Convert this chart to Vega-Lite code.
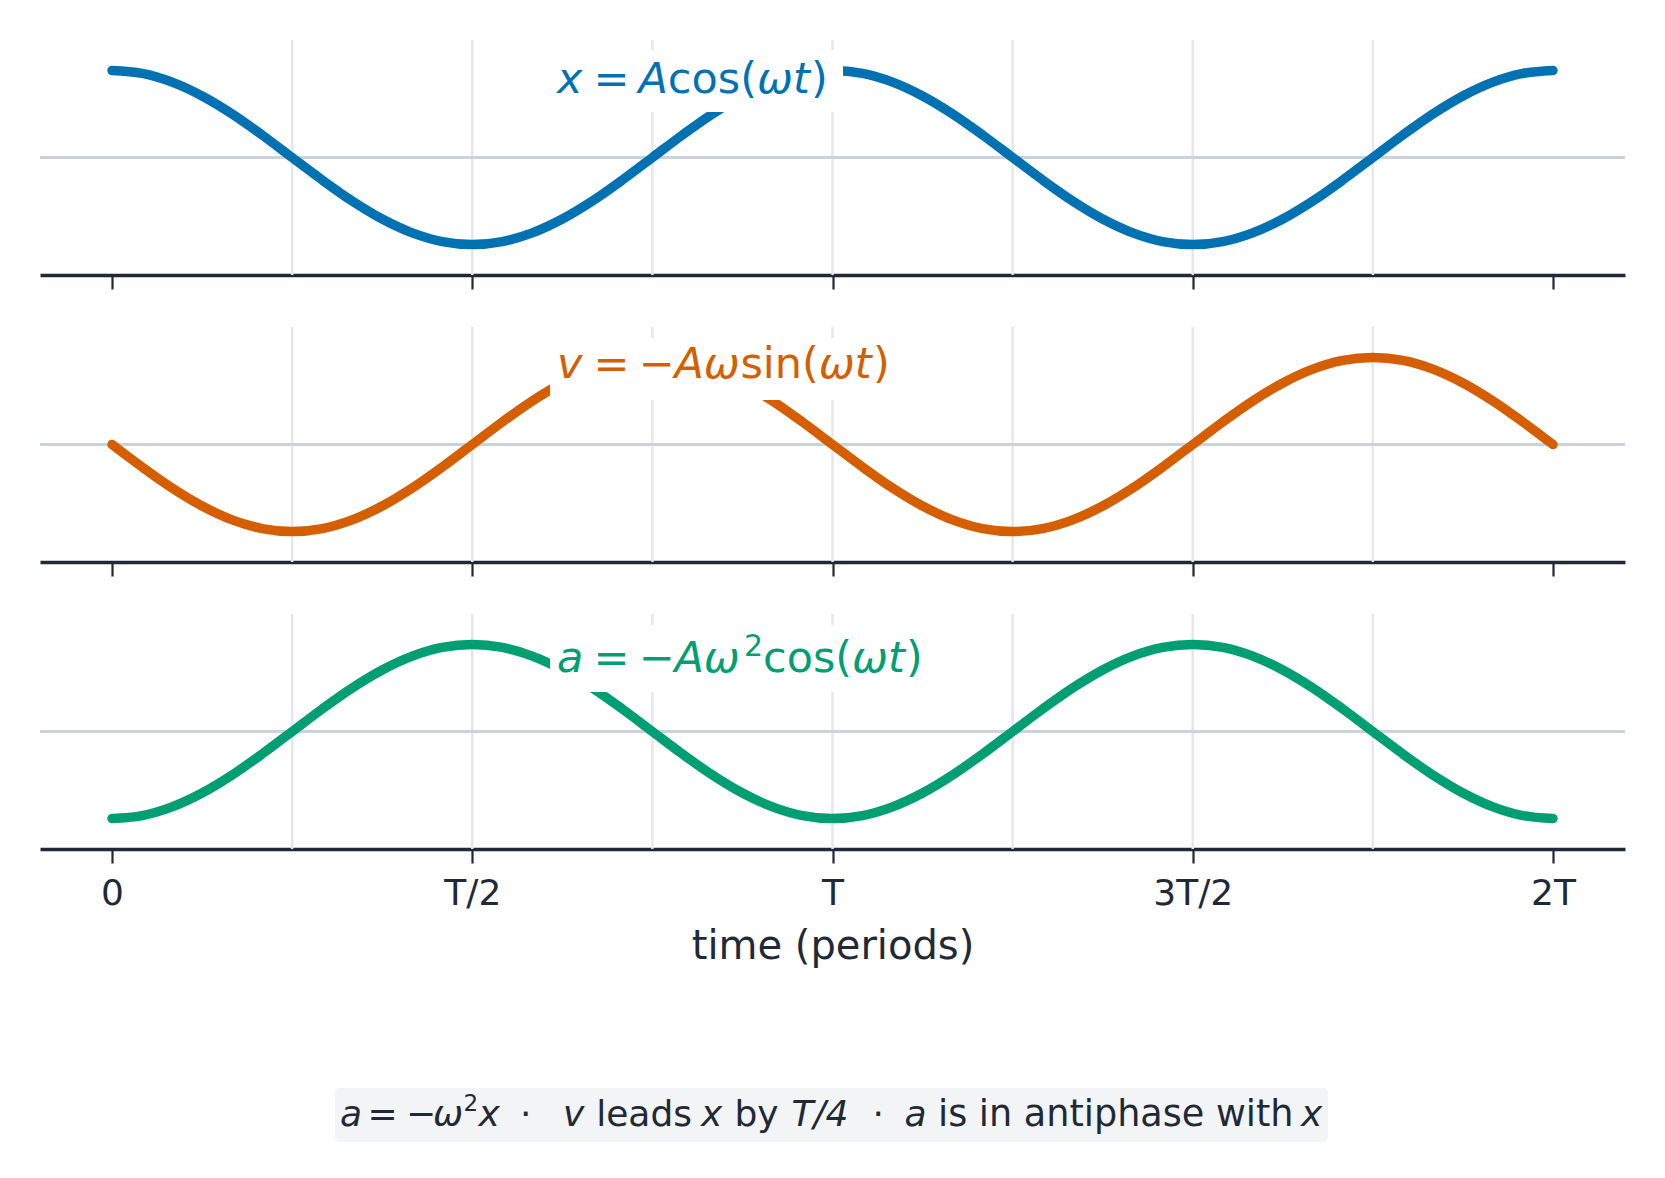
{
  "$schema": "https://vega.github.io/schema/vega-lite/v6.json",
  "padding": {"left": 38, "top": 38, "right": 42, "bottom": 38},
  "bounds": "flush",
  "spacing": 52,
  "datasets": {
    "motion": [
      {"t": 0, "x": 1, "v": 0, "a": -1},
      {"t": 0.0417, "x": 0.9659, "v": -0.2588, "a": -0.9659},
      {"t": 0.0833, "x": 0.866, "v": -0.5, "a": -0.866},
      {"t": 0.125, "x": 0.7071, "v": -0.7071, "a": -0.7071},
      {"t": 0.1667, "x": 0.5, "v": -0.866, "a": -0.5},
      {"t": 0.2083, "x": 0.2588, "v": -0.9659, "a": -0.2588},
      {"t": 0.25, "x": 0, "v": -1, "a": 0},
      {"t": 0.2917, "x": -0.2588, "v": -0.9659, "a": 0.2588},
      {"t": 0.3333, "x": -0.5, "v": -0.866, "a": 0.5},
      {"t": 0.375, "x": -0.7071, "v": -0.7071, "a": 0.7071},
      {"t": 0.4167, "x": -0.866, "v": -0.5, "a": 0.866},
      {"t": 0.4583, "x": -0.9659, "v": -0.2588, "a": 0.9659},
      {"t": 0.5, "x": -1, "v": 0, "a": 1},
      {"t": 0.5417, "x": -0.9659, "v": 0.2588, "a": 0.9659},
      {"t": 0.5833, "x": -0.866, "v": 0.5, "a": 0.866},
      {"t": 0.625, "x": -0.7071, "v": 0.7071, "a": 0.7071},
      {"t": 0.6667, "x": -0.5, "v": 0.866, "a": 0.5},
      {"t": 0.7083, "x": -0.2588, "v": 0.9659, "a": 0.2588},
      {"t": 0.75, "x": 0, "v": 1, "a": 0},
      {"t": 0.7917, "x": 0.2588, "v": 0.9659, "a": -0.2588},
      {"t": 0.8333, "x": 0.5, "v": 0.866, "a": -0.5},
      {"t": 0.875, "x": 0.7071, "v": 0.7071, "a": -0.7071},
      {"t": 0.9167, "x": 0.866, "v": 0.5, "a": -0.866},
      {"t": 0.9583, "x": 0.9659, "v": 0.2588, "a": -0.9659},
      {"t": 1, "x": 1, "v": 0, "a": -1},
      {"t": 1.0417, "x": 0.9659, "v": -0.2588, "a": -0.9659},
      {"t": 1.0833, "x": 0.866, "v": -0.5, "a": -0.866},
      {"t": 1.125, "x": 0.7071, "v": -0.7071, "a": -0.7071},
      {"t": 1.1667, "x": 0.5, "v": -0.866, "a": -0.5},
      {"t": 1.2083, "x": 0.2588, "v": -0.9659, "a": -0.2588},
      {"t": 1.25, "x": 0, "v": -1, "a": 0},
      {"t": 1.2917, "x": -0.2588, "v": -0.9659, "a": 0.2588},
      {"t": 1.3333, "x": -0.5, "v": -0.866, "a": 0.5},
      {"t": 1.375, "x": -0.7071, "v": -0.7071, "a": 0.7071},
      {"t": 1.4167, "x": -0.866, "v": -0.5, "a": 0.866},
      {"t": 1.4583, "x": -0.9659, "v": -0.2588, "a": 0.9659},
      {"t": 1.5, "x": -1, "v": 0, "a": 1},
      {"t": 1.5417, "x": -0.9659, "v": 0.2588, "a": 0.9659},
      {"t": 1.5833, "x": -0.866, "v": 0.5, "a": 0.866},
      {"t": 1.625, "x": -0.7071, "v": 0.7071, "a": 0.7071},
      {"t": 1.6667, "x": -0.5, "v": 0.866, "a": 0.5},
      {"t": 1.7083, "x": -0.2588, "v": 0.9659, "a": 0.2588},
      {"t": 1.75, "x": 0, "v": 1, "a": 0},
      {"t": 1.7917, "x": 0.2588, "v": 0.9659, "a": -0.2588},
      {"t": 1.8333, "x": 0.5, "v": 0.866, "a": -0.5},
      {"t": 1.875, "x": 0.7071, "v": 0.7071, "a": -0.7071},
      {"t": 1.9167, "x": 0.866, "v": 0.5, "a": -0.866},
      {"t": 1.9583, "x": 0.9659, "v": 0.2588, "a": -0.9659},
      {"t": 2, "x": 1, "v": 0, "a": -1}
    ],
    "grid": [
      {"t": 0.25}, {"t": 0.5}, {"t": 0.75}, {"t": 1}, {"t": 1.25}, {"t": 1.5}, {"t": 1.75}
    ],
    "one": [{}]
  },
  "config": {
    "font": "DejaVu Sans",
    "view": {"stroke": null},
    "text": {"font": "DejaVu Sans", "align": "left", "baseline": "alphabetic"},
    "axis": {
      "domainColor": "#1f2937",
      "domainWidth": 3.5,
      "tickColor": "#1f2937",
      "tickWidth": 2.2,
      "tickSize": 14,
      "grid": false,
      "labelFont": "DejaVu Sans",
      "labelFontSize": 36,
      "labelColor": "#1f2937",
      "labelPadding": 13,
      "titleFont": "DejaVu Sans",
      "titleFontSize": 40,
      "titleFontWeight": "normal",
      "titleColor": "#1f2937",
      "titlePadding": 15
    }
  },
  "vconcat": [
    {
      "width": 1585,
      "height": 235,
      "data": {"name": "one"},
      "layer": [
        {
          "data": {"name": "grid"},
          "mark": {"type": "rule", "color": "#e5e7eb", "strokeWidth": 2.5},
          "encoding": {
            "x": {"field": "t", "type": "quantitative",
                  "scale": {"domain": [-0.1, 2.1], "nice": false, "zero": false},
                  "axis": {"values": [0, 0.5, 1, 1.5, 2], "labels": false, "title": null}}
          }
        },
        {
          "mark": {"type": "rule", "color": "#cbd2db", "strokeWidth": 3},
          "encoding": {
            "y": {"datum": 0, "axis": null, "scale": {"domain": [-1.35, 1.35], "nice": false}}
          }
        },
        {
          "data": {"name": "motion"},
          "mark": {"type": "line", "color": "#0072B2", "strokeWidth": 9.5, "strokeCap": "round", "interpolate": "cardinal"},
          "encoding": {
            "x": {"field": "t", "type": "quantitative", "title": null},
            "y": {"field": "x", "type": "quantitative", "axis": null}
          }
        },
        {
          "mark": {"type": "rect", "color": "white"},
          "encoding": {
            "x": {"datum": 0.6079}, "x2": {"datum": 1.0146},
            "y": {"datum": 1.235, "axis": null}, "y2": {"datum": 0.523}
          }
        },
        {"mark": {"type": "text", "text": "x", "fontStyle": "italic", "fontSize": 43, "color": "#0072B2", "dx": 0},
         "encoding": {"x": {"datum": 0.6176}, "y": {"datum": 0.744, "axis": null}}},
        {"mark": {"type": "text", "text": "=", "fontSize": 43, "color": "#0072B2", "dx": 36.4},
         "encoding": {"x": {"datum": 0.6176}, "y": {"datum": 0.744, "axis": null}}},
        {"mark": {"type": "text", "text": "A", "fontStyle": "italic", "fontSize": 43, "color": "#0072B2", "dx": 81.4},
         "encoding": {"x": {"datum": 0.6176}, "y": {"datum": 0.744, "axis": null}}},
        {"mark": {"type": "text", "text": "cos(", "fontSize": 43, "color": "#0072B2", "dx": 110.8},
         "encoding": {"x": {"datum": 0.6176}, "y": {"datum": 0.744, "axis": null}}},
        {"mark": {"type": "text", "text": "ωt", "fontStyle": "italic", "fontSize": 43, "color": "#0072B2", "dx": 200},
         "encoding": {"x": {"datum": 0.6176}, "y": {"datum": 0.744, "axis": null}}},
        {"mark": {"type": "text", "text": ")", "fontSize": 43, "color": "#0072B2", "dx": 254},
         "encoding": {"x": {"datum": 0.6176}, "y": {"datum": 0.744, "axis": null}}}
      ]
    },
    {
      "width": 1585,
      "height": 235,
      "data": {"name": "one"},
      "layer": [
        {
          "data": {"name": "grid"},
          "mark": {"type": "rule", "color": "#e5e7eb", "strokeWidth": 2.5},
          "encoding": {
            "x": {"field": "t", "type": "quantitative",
                  "scale": {"domain": [-0.1, 2.1], "nice": false, "zero": false},
                  "axis": {"values": [0, 0.5, 1, 1.5, 2], "labels": false, "title": null}}
          }
        },
        {
          "mark": {"type": "rule", "color": "#cbd2db", "strokeWidth": 3},
          "encoding": {
            "y": {"datum": 0, "axis": null, "scale": {"domain": [-1.35, 1.35], "nice": false}}
          }
        },
        {
          "data": {"name": "motion"},
          "mark": {"type": "line", "color": "#D55E00", "strokeWidth": 9.5, "strokeCap": "round", "interpolate": "cardinal"},
          "encoding": {
            "x": {"field": "t", "type": "quantitative", "title": null},
            "y": {"field": "v", "type": "quantitative", "axis": null}
          }
        },
        {
          "mark": {"type": "rect", "color": "white"},
          "encoding": {
            "x": {"datum": 0.6079}, "x2": {"datum": 1.102},
            "y": {"datum": 1.224, "axis": null}, "y2": {"datum": 0.511}
          }
        },
        {"mark": {"type": "text", "text": "v", "fontStyle": "italic", "fontSize": 43, "color": "#D55E00", "dx": 0},
         "encoding": {"x": {"datum": 0.6176}, "y": {"datum": 0.761, "axis": null}}},
        {"mark": {"type": "text", "text": "=", "fontSize": 43, "color": "#D55E00", "dx": 36.4},
         "encoding": {"x": {"datum": 0.6176}, "y": {"datum": 0.761, "axis": null}}},
        {"mark": {"type": "text", "text": "−", "fontSize": 43, "color": "#D55E00", "dx": 81.4},
         "encoding": {"x": {"datum": 0.6176}, "y": {"datum": 0.761, "axis": null}}},
        {"mark": {"type": "text", "text": "Aω", "fontStyle": "italic", "fontSize": 43, "color": "#D55E00", "dx": 117.4},
         "encoding": {"x": {"datum": 0.6176}, "y": {"datum": 0.761, "axis": null}}},
        {"mark": {"type": "text", "text": "sin(", "fontSize": 43, "color": "#D55E00", "dx": 183.4},
         "encoding": {"x": {"datum": 0.6176}, "y": {"datum": 0.761, "axis": null}}},
        {"mark": {"type": "text", "text": "ωt", "fontStyle": "italic", "fontSize": 43, "color": "#D55E00", "dx": 261.8},
         "encoding": {"x": {"datum": 0.6176}, "y": {"datum": 0.761, "axis": null}}},
        {"mark": {"type": "text", "text": ")", "fontSize": 43, "color": "#D55E00", "dx": 316},
         "encoding": {"x": {"datum": 0.6176}, "y": {"datum": 0.761, "axis": null}}}
      ]
    },
    {
      "width": 1585,
      "height": 235,
      "data": {"name": "one"},
      "layer": [
        {
          "data": {"name": "grid"},
          "mark": {"type": "rule", "color": "#e5e7eb", "strokeWidth": 2.5},
          "encoding": {
            "x": {"field": "t", "type": "quantitative",
                  "scale": {"domain": [-0.1, 2.1], "nice": false, "zero": false},
                  "axis": {
                    "values": [0, 0.5, 1, 1.5, 2],
                    "title": "time (periods)",
                    "labelExpr": "datum.value == 0 ? '0' : datum.value == 0.5 ? 'T/2' : datum.value == 1 ? 'T' : datum.value == 1.5 ? '3T/2' : '2T'",
                    "labelFlush": false,
                    "labelOverlap": false
                  }}
          }
        },
        {
          "mark": {"type": "rule", "color": "#cbd2db", "strokeWidth": 3},
          "encoding": {
            "y": {"datum": 0, "axis": null, "scale": {"domain": [-1.35, 1.35], "nice": false}}
          }
        },
        {
          "data": {"name": "motion"},
          "mark": {"type": "line", "color": "#009E73", "strokeWidth": 9.5, "strokeCap": "round", "interpolate": "cardinal"},
          "encoding": {
            "x": {"field": "t", "type": "quantitative", "title": "time (periods)"},
            "y": {"field": "a", "type": "quantitative", "axis": null}
          }
        },
        {
          "mark": {"type": "rect", "color": "white"},
          "encoding": {
            "x": {"datum": 0.6079}, "x2": {"datum": 1.1478},
            "y": {"datum": 1.224, "axis": null}, "y2": {"datum": 0.454}
          }
        },
        {"mark": {"type": "text", "text": "a", "fontStyle": "italic", "fontSize": 43, "color": "#009E73", "dx": 0},
         "encoding": {"x": {"datum": 0.6176}, "y": {"datum": 0.684, "axis": null}}},
        {"mark": {"type": "text", "text": "=", "fontSize": 43, "color": "#009E73", "dx": 36.4},
         "encoding": {"x": {"datum": 0.6176}, "y": {"datum": 0.684, "axis": null}}},
        {"mark": {"type": "text", "text": "−", "fontSize": 43, "color": "#009E73", "dx": 81.4},
         "encoding": {"x": {"datum": 0.6176}, "y": {"datum": 0.684, "axis": null}}},
        {"mark": {"type": "text", "text": "Aω", "fontStyle": "italic", "fontSize": 43, "color": "#009E73", "dx": 117.4},
         "encoding": {"x": {"datum": 0.6176}, "y": {"datum": 0.684, "axis": null}}},
        {"mark": {"type": "text", "text": "2", "fontSize": 30, "color": "#009E73", "dx": 187, "dy": -16},
         "encoding": {"x": {"datum": 0.6176}, "y": {"datum": 0.684, "axis": null}}},
        {"mark": {"type": "text", "text": "cos(", "fontSize": 43, "color": "#009E73", "dx": 206},
         "encoding": {"x": {"datum": 0.6176}, "y": {"datum": 0.684, "axis": null}}},
        {"mark": {"type": "text", "text": "ωt", "fontStyle": "italic", "fontSize": 43, "color": "#009E73", "dx": 295},
         "encoding": {"x": {"datum": 0.6176}, "y": {"datum": 0.684, "axis": null}}},
        {"mark": {"type": "text", "text": ")", "fontSize": 43, "color": "#009E73", "dx": 349},
         "encoding": {"x": {"datum": 0.6176}, "y": {"datum": 0.684, "axis": null}}}
      ]
    },
    {
      "width": 1585,
      "height": 241,
      "data": {"name": "one"},
      "layer": [
        {
          "mark": {"type": "rect", "color": "#f3f4f6", "cornerRadius": 4},
          "encoding": {
            "x": {"datum": 0.3095, "axis": null, "scale": {"domain": [-0.1, 2.1], "nice": false, "zero": false}},
            "x2": {"datum": 1.6877},
            "y": {"datum": 0.2241, "axis": null, "scale": {"domain": [0, 1], "nice": false}},
            "y2": {"datum": 0}
          }
        },
        {"mark": {"type": "text", "text": "a", "fontStyle": "italic", "fontSize": 36, "color": "#1f2937", "dx": 0},
         "encoding": {"x": {"datum": 0.3164, "axis": null}, "y": {"datum": 0.0664, "axis": null}}},
        {"mark": {"type": "text", "text": "=", "fontSize": 36, "color": "#1f2937", "dx": 27.5},
         "encoding": {"x": {"datum": 0.3164, "axis": null}, "y": {"datum": 0.0664, "axis": null}}},
        {"mark": {"type": "text", "text": "−", "fontSize": 36, "color": "#1f2937", "dx": 66},
         "encoding": {"x": {"datum": 0.3164, "axis": null}, "y": {"datum": 0.0664, "axis": null}}},
        {"mark": {"type": "text", "text": "ω", "fontStyle": "italic", "fontSize": 36, "color": "#1f2937", "dx": 93},
         "encoding": {"x": {"datum": 0.3164, "axis": null}, "y": {"datum": 0.0664, "axis": null}}},
        {"mark": {"type": "text", "text": "2", "fontSize": 23, "color": "#1f2937", "dx": 123.5, "dy": -14.5},
         "encoding": {"x": {"datum": 0.3164, "axis": null}, "y": {"datum": 0.0664, "axis": null}}},
        {"mark": {"type": "text", "text": "x", "fontStyle": "italic", "fontSize": 36, "color": "#1f2937", "dx": 138.5},
         "encoding": {"x": {"datum": 0.3164, "axis": null}, "y": {"datum": 0.0664, "axis": null}}},
        {"mark": {"type": "text", "text": "·", "fontSize": 36, "color": "#1f2937", "dx": 180},
         "encoding": {"x": {"datum": 0.3164, "axis": null}, "y": {"datum": 0.0664, "axis": null}}},
        {"mark": {"type": "text", "text": "v", "fontStyle": "italic", "fontSize": 36, "color": "#1f2937", "dx": 223},
         "encoding": {"x": {"datum": 0.3164, "axis": null}, "y": {"datum": 0.0664, "axis": null}}},
        {"mark": {"type": "text", "text": "leads", "fontSize": 36, "color": "#1f2937", "dx": 256.2},
         "encoding": {"x": {"datum": 0.3164, "axis": null}, "y": {"datum": 0.0664, "axis": null}}},
        {"mark": {"type": "text", "text": "x", "fontStyle": "italic", "fontSize": 36, "color": "#1f2937", "dx": 361},
         "encoding": {"x": {"datum": 0.3164, "axis": null}, "y": {"datum": 0.0664, "axis": null}}},
        {"mark": {"type": "text", "text": "by", "fontSize": 36, "color": "#1f2937", "dx": 394.5},
         "encoding": {"x": {"datum": 0.3164, "axis": null}, "y": {"datum": 0.0664, "axis": null}}},
        {"mark": {"type": "text", "text": "T/4", "fontStyle": "italic", "fontSize": 36, "color": "#1f2937", "dx": 451.5},
         "encoding": {"x": {"datum": 0.3164, "axis": null}, "y": {"datum": 0.0664, "axis": null}}},
        {"mark": {"type": "text", "text": "·", "fontSize": 36, "color": "#1f2937", "dx": 532.6},
         "encoding": {"x": {"datum": 0.3164, "axis": null}, "y": {"datum": 0.0664, "axis": null}}},
        {"mark": {"type": "text", "text": "a", "fontStyle": "italic", "fontSize": 36, "color": "#1f2937", "dx": 564.5},
         "encoding": {"x": {"datum": 0.3164, "axis": null}, "y": {"datum": 0.0664, "axis": null}}},
        {"mark": {"type": "text", "text": "is in antiphase with", "fontSize": 36.6, "color": "#1f2937", "dx": 598},
         "encoding": {"x": {"datum": 0.3164, "axis": null}, "y": {"datum": 0.0664, "axis": null}}},
        {"mark": {"type": "text", "text": "x", "fontStyle": "italic", "fontSize": 36, "color": "#1f2937", "dx": 961},
         "encoding": {"x": {"datum": 0.3164, "axis": null}, "y": {"datum": 0.0664, "axis": null}}}
      ]
    }
  ]
}
